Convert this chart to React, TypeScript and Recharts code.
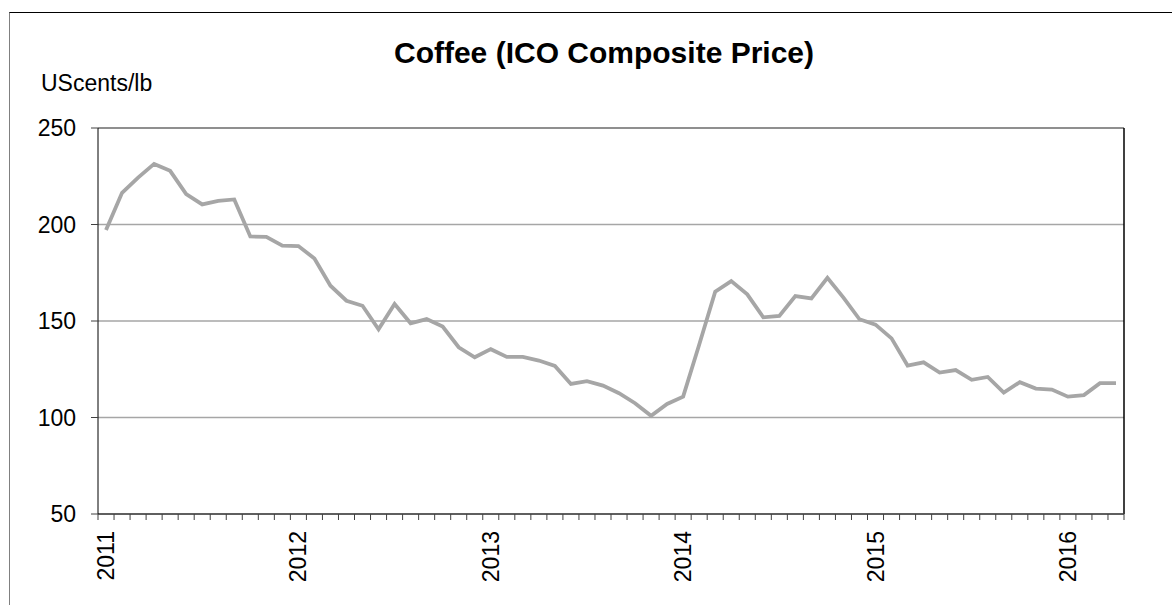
import { LineChart, Line, XAxis, YAxis, CartesianGrid, ReferenceLine } from 'recharts';

const FONT = '"Liberation Sans", Arial, sans-serif';

// monthly ICO composite indicator, Jan 2011 .. Apr 2016 (US cents/lb)
const prices = [
  197.1, 216.4, 224.3, 231.4, 227.8, 215.7, 210.4, 212.2, 213.0, 193.8, 193.6, 189.0,
  188.8, 182.4, 168.3, 160.5, 157.9, 145.7, 158.8, 148.8, 151.0, 147.1, 136.4, 131.2,
  135.4, 131.4, 131.4, 129.5, 126.7, 117.4, 118.8, 116.5, 112.6, 107.4, 100.9, 107.0,
  110.8, 137.7, 165.2, 170.7, 163.8, 151.9, 152.6, 162.9, 161.7, 172.4, 162.1, 150.9,
  148.1, 141.0, 126.9, 128.6, 123.3, 124.6, 119.5, 121.0, 112.9, 118.3, 115.0, 114.5,
  110.8, 111.6, 117.8, 117.8,
];

const yearLabels = ['2011', '2012', '2013', '2014', '2015', '2016'];
const yTicks = [50, 100, 150, 200, 250];

const data = prices.map((price, i) => ({ month: i, price }));
// tick marks sit between months, year labels sit on January
const monthEdges = Array.from({ length: prices.length + 1 }, (_, i) => i - 0.5);
const yearTicks = yearLabels.map((_, k) => k * 12);
const xDomain = [-0.5, prices.length - 0.5];

const YearTick = (props: any) => {
  const { x, y, payload } = props;
  const label = yearLabels[Math.round(payload.value / 12)];
  const ty = y + 8;
  return (
    <text
      x={x}
      y={ty}
      transform={`rotate(-90 ${x} ${ty})`}
      textAnchor="end"
      dominantBaseline="central"
      fontSize={23}
      fontFamily={FONT}
      fill="#000"
    >
      {label}
    </text>
  );
};

export default function App() {
  return (
    <div style={{ position: 'absolute', left: 0, top: 0, width: 1172, height: 605, overflow: 'hidden', background: '#fff', fontFamily: FONT }}>
      <div
        style={{
          position: 'absolute',
          left: 9,
          top: 12,
          width: 1300,
          height: 800,
          borderTop: '1.5px solid #000',
          borderLeft: '1px solid #808080',
        }}
      />
      <div style={{ position: 'absolute', left: 0, width: 1208, top: 36, textAlign: 'center', fontSize: 30, fontWeight: 'bold', color: '#000' }}>
        Coffee (ICO Composite Price)
      </div>
      <div style={{ position: 'absolute', left: 41, top: 70, fontSize: 23, color: '#000' }}>UScents/lb</div>
      <div style={{ position: 'absolute', left: 0, top: 0 }}>
        <LineChart width={1172} height={605} data={data} margin={{ top: 128, right: 48, left: 0, bottom: 10 }}>
          <CartesianGrid xAxisId="m" vertical={false} stroke="#a6a6a6" strokeWidth={1.3} />
          <XAxis
            xAxisId="m"
            dataKey="month"
            type="number"
            domain={xDomain}
            ticks={monthEdges}
            interval={0}
            allowDataOverflow
            tickFormatter={() => ''}
            tickSize={6}
            height={1}
            axisLine={{ stroke: '#404040', strokeWidth: 1.5 }}
            tickLine={{ stroke: '#404040' }}
          />
          <XAxis
            xAxisId="y"
            dataKey="month"
            type="number"
            domain={xDomain}
            ticks={yearTicks}
            interval={0}
            allowDataOverflow
            axisLine={false}
            tickLine={false}
            height={80}
            tick={<YearTick />}
          />
          <YAxis
            domain={[50, 250]}
            ticks={yTicks}
            width={98}
            tickSize={7}
            tickMargin={15}
            axisLine={{ stroke: '#000' }}
            tickLine={{ stroke: '#404040' }}
            tick={{ fontSize: 23, fill: '#000', fontFamily: FONT }}
          />
          <ReferenceLine xAxisId="m" y={250} stroke="#808080" strokeWidth={1.5} />
          <ReferenceLine xAxisId="m" x={prices.length - 0.5} stroke="#000" strokeWidth={1.5} />
          <Line
            xAxisId="m"
            type="linear"
            dataKey="price"
            stroke="#a6a6a6"
            strokeWidth={3.8}
            dot={false}
            isAnimationActive={false}
          />
        </LineChart>
      </div>
    </div>
  );
}
